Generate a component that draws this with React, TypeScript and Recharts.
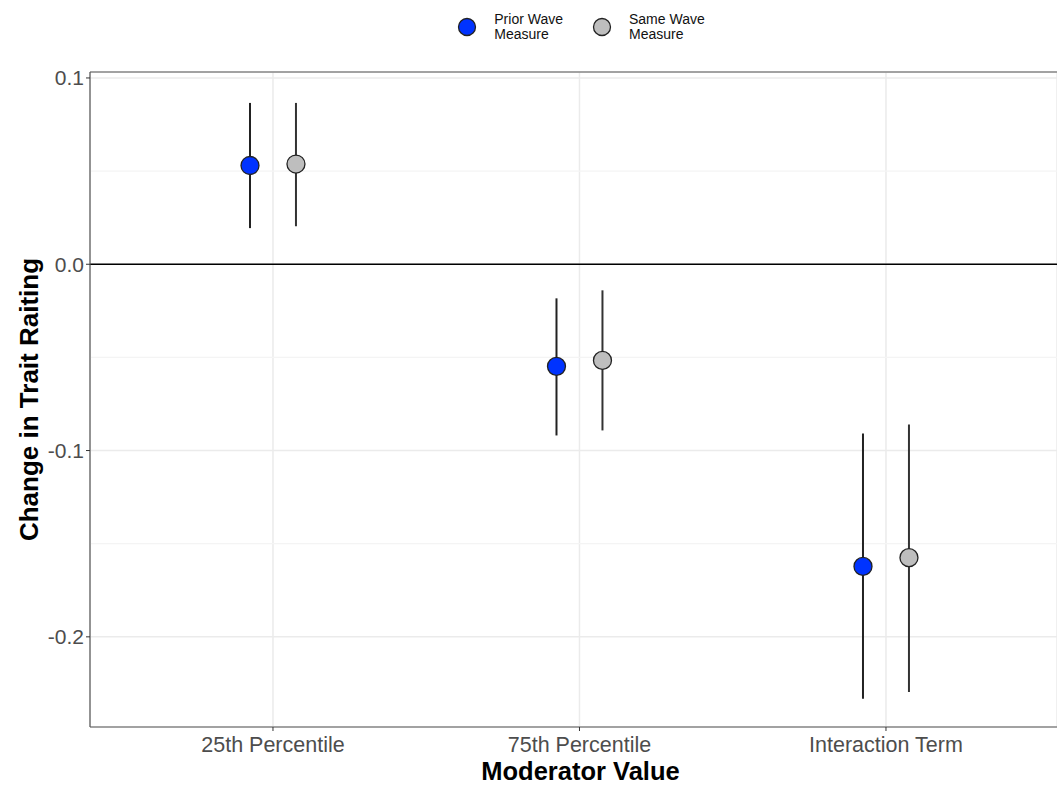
import {
  ComposedChart,
  Scatter,
  ErrorBar,
  XAxis,
  YAxis,
  CartesianGrid,
  ReferenceLine,
  Legend,
} from 'recharts'

const categories = ['25th Percentile', '75th Percentile', 'Interaction Term']

const priorEst = [0.053, -0.0548, -0.1622]
const priorLow = [0.0194, -0.0919, -0.2333]
const priorHigh = [0.0866, -0.0183, -0.0909]

const sameEst = [0.0538, -0.0516, -0.1575]
const sameLow = [0.0204, -0.0892, -0.2296]
const sameHigh = [0.0866, -0.014, -0.086]

const yTicks = [0.1, 0, -0.1, -0.2]
const yMinor = [0.05, -0.05, -0.15]

const DODGE = 0.075
const FONT = '"Liberation Sans", Arial, Helvetica, sans-serif'

const buildSeries = (est: number[], low: number[], high: number[], offset: number) =>
  est.map((v, i) => ({
    x: i + 1 + offset,
    y: v,
    err: [v - low[i], high[i] - v],
  }))

const priorData = buildSeries(priorEst, priorLow, priorHigh, -DODGE)
const sameData = buildSeries(sameEst, sameLow, sameHigh, DODGE)

const dot = (fill: string) => (props: any) => (
  <circle cx={props.cx} cy={props.cy} r={9} fill={fill} stroke="#222" strokeWidth={1.3} />
)

const legendItems = [
  { name: ['Prior Wave', 'Measure'], color: '#0033ff' },
  { name: ['Same Wave', 'Measure'], color: '#bebebe' },
]

function LegendContent() {
  return (
    <div style={{ display: 'flex', justifyContent: 'center', fontFamily: FONT, fontSize: 14, lineHeight: '15px', color: '#111', marginLeft: 88 }}>
      {legendItems.map((it) => (
        <div key={it.color} style={{ display: 'flex', alignItems: 'center', marginRight: 26 }}>
          <svg width={26} height={26} style={{ marginRight: 14 }}>
            <circle cx={13} cy={13} r={8.5} fill={it.color} stroke="#222" strokeWidth={1.3} />
          </svg>
          <div>
            {it.name[0]}
            <br />
            {it.name[1]}
          </div>
        </div>
      ))}
    </div>
  )
}

export default function App() {
  return (
    <div style={{ position: 'absolute', left: 0, top: 0 }}>
      <ComposedChart
        width={1057}
        height={786}
        margin={{ top: 72, right: 0, left: 40, bottom: 29 }}
      >
        <CartesianGrid stroke="#ebebeb" strokeWidth={1.5} />
        {yMinor.map((v) => (
          <ReferenceLine key={v} y={v} stroke="#f4f4f4" strokeWidth={1.2} />
        ))}
        <XAxis
          type="number"
          dataKey="x"
          domain={[0.403, 3.558]}
          ticks={[1, 2, 3]}
          allowDataOverflow
          tickFormatter={(v: number) => categories[Math.round(v) - 1] ?? ''}
          tick={{ fontSize: 21.5, fill: '#4d4d4d', fontFamily: FONT }}
          tickLine={{ stroke: '#333' }}
          tickSize={4}
          tickMargin={6}
          axisLine={{ stroke: '#555', strokeWidth: 1.2 }}
          height={30}
          label={{
            value: 'Moderator Value',
            position: 'insideBottom',
            offset: -23,
            dx: 7,
            style: { fontSize: 25.5, fontWeight: 'bold', fill: '#000', fontFamily: FONT },
          }}
        />
        <YAxis
          type="number"
          domain={[-0.2484, 0.1032]}
          ticks={yTicks}
          allowDataOverflow
          tickFormatter={(v: number) => v.toFixed(1)}
          tick={{ fontSize: 21, fill: '#4d4d4d', fontFamily: FONT }}
          tickLine={{ stroke: '#333' }}
          tickSize={4}
          axisLine={{ stroke: '#555', strokeWidth: 1.2 }}
          width={50}
          label={{
            value: 'Change in Trait Raiting',
            angle: -90,
            position: 'insideLeft',
            dx: -16,
            textAnchor: 'middle',
            style: { fontSize: 26, fontWeight: 'bold', fill: '#000', fontFamily: FONT, textAnchor: 'middle' },
          }}
        />
        <ReferenceLine y={0.1032} stroke="#555" strokeWidth={1.2} />
        <ReferenceLine y={0} stroke="#000" strokeWidth={1.6} />
        <Legend
          verticalAlign="top"
          align="center"
          height={0}
          wrapperStyle={{ top: 12, height: 0 }}
          content={<LegendContent />}
        />
        <Scatter name="Prior Wave Measure" data={priorData} dataKey="y" shape={dot('#0033ff')} isAnimationActive={false}>
          <ErrorBar dataKey="err" direction="y" width={0} stroke="#222" strokeWidth={2} />
        </Scatter>
        <Scatter name="Same Wave Measure" data={sameData} dataKey="y" shape={dot('#bebebe')} isAnimationActive={false}>
          <ErrorBar dataKey="err" direction="y" width={0} stroke="#333" strokeWidth={2} />
        </Scatter>
      </ComposedChart>
    </div>
  )
}
